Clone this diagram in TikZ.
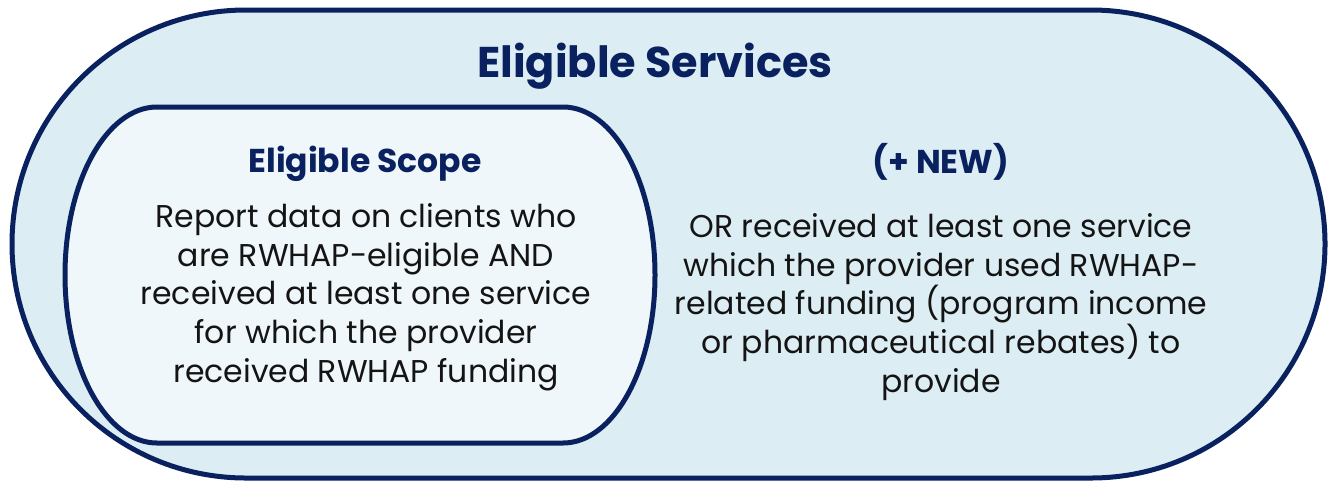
\documentclass[tikz,border=0pt]{standalone}
\usepackage{fontspec}
\setmainfont{Poppins}
\definecolor{navy}{HTML}{0A215F}
\definecolor{outerfill}{HTML}{DCEDF4}
\definecolor{innerfill}{HTML}{EFF7FA}
\definecolor{ink}{HTML}{141414}
\begin{document}
\begin{tikzpicture}[x=1pt, y=-1pt, line width=5pt, draw=navy,
	head/.style={font=\bfseries\fontsize{33}{38}\selectfont, text=navy, anchor=base},
	body/.style={font=\fontsize{31.5}{38.6}\selectfont, text=ink, align=center, anchor=base}]
	\useasboundingbox (0,0) rectangle (1332,483);
	% outer and inner shapes
	\filldraw[fill=outerfill] (246,10) -- (1091,10) arc[start angle=-90, end angle=90, radius=234]
		-- (246,478) arc[start angle=90, end angle=270, radius=234] -- cycle;
	\filldraw[fill=innerfill] (157,107) -- (563,107) arc[start angle=-90, end angle=90, x radius=92, y radius=168]
		-- (157,443) arc[start angle=90, end angle=270, x radius=92, y radius=168] -- cycle;
	% headings
	\node[head, font=\bfseries\fontsize{43}{50}\selectfont] (services) at (655,77) {Eligible Services};
	\node[head] (scope) at (365,172) {Eligible Scope};
	\node[head] (new)   at (941,173) {(+ NEW)};
	% texts (placed at the baseline of their last line)
	\node[body] (scopetext) at (366,382) {Report data on clients who\\are RWHAP-eligible AND\\received at least one service\\for which the provider\\received RWHAP funding};
	\node[body] (newtext)   at (941,392) {OR received at least one service\\which the provider used RWHAP-\\related funding (program income\\or pharmaceutical rebates) to\\provide};
\end{tikzpicture}
\end{document}
